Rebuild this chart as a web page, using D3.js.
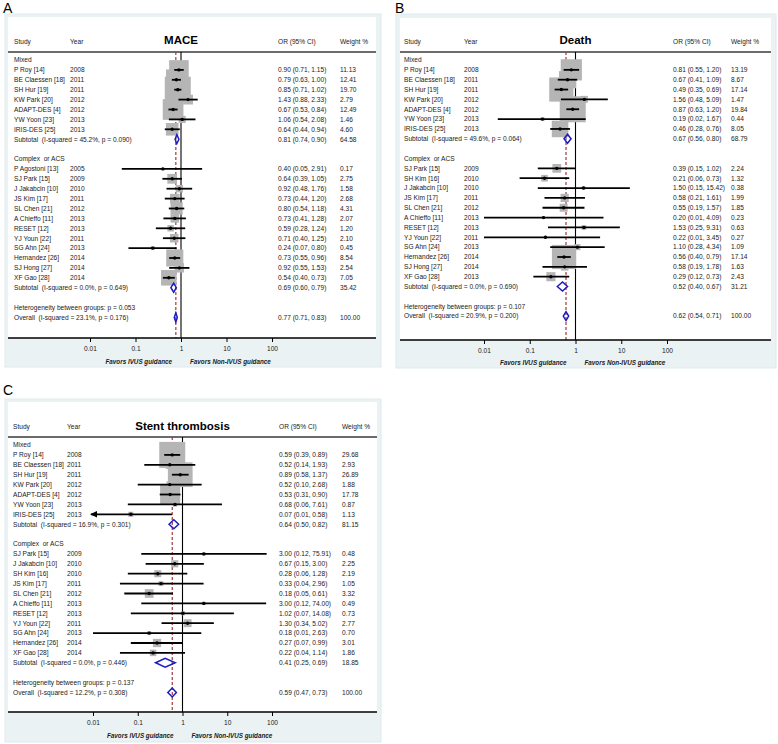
<!DOCTYPE html>
<html><head><meta charset="utf-8">
<script src="https://cdn.jsdelivr.net/npm/d3@7"></script>
<style>
body{margin:0;background:#fff}
svg{display:block;font-family:"Liberation Sans",Arial,Helvetica,sans-serif}
text{white-space:pre}
</style>
</head><body>
<svg id="chart" width="778" height="744"></svg>
<script>
// ---------- shared labels ----------
const groupNames = ["Mixed", "Complex  or ACS"];
const tickValues = [0.01, 0.1, 1, 10, 100];
const tickLabels = ["0.01", "0.1", "1", "10", "100"];
const favorLabels = ["Favors IVUS guidance", "Favors Non-IVUS guidance"];
const headerLabels = ["Study", "Year", "OR (95% CI)", "Weight %"];

// ---------- A: MACE ----------
const maceStudies = ["P Roy [14]","BE Claessen [18]","SH Hur [19]","KW Park [20]","ADAPT-DES [4]","YW Yoon [23]","IRIS-DES [25]","P Agostoni [13]","SJ Park [15]","J Jakabcin [10]","JS Kim [17]","SL Chen [21]","A Chieffo [11]","RESET [12]","YJ Youn [22]","SG Ahn [24]","Hernandez [26]","SJ Hong [27]","XF Gao [28]"];
const maceYears = [2008,2011,2011,2012,2012,2013,2013,2005,2009,2010,2011,2012,2013,2013,2011,2013,2014,2014,2014];
const maceGroup = [0,0,0,0,0,0,0,1,1,1,1,1,1,1,1,1,1,1,1];
const maceOR = [0.90,0.79,0.85,1.43,0.67,1.06,0.64,0.40,0.64,0.92,0.73,0.80,0.73,0.59,0.71,0.24,0.73,0.92,0.54];
const maceLo = [0.71,0.63,0.71,0.88,0.53,0.54,0.44,0.05,0.39,0.48,0.44,0.54,0.41,0.28,0.40,0.07,0.55,0.55,0.40];
const maceHi = [1.15,1.00,1.02,2.33,0.84,2.08,0.94,2.91,1.05,1.76,1.20,1.18,1.28,1.24,1.25,0.80,0.96,1.53,0.73];
const maceWt = [11.13,12.41,19.70,2.79,12.49,1.46,4.60,0.17,2.75,1.58,2.68,4.31,2.07,1.20,2.10,0.45,8.54,2.54,7.05];
const maceSubOR = [0.81,0.69], maceSubLo = [0.74,0.60], maceSubHi = [0.90,0.79];
const maceSubWt = [64.58,35.42], maceSubI2 = ["45.2","0.0"], maceSubP = ["0.090","0.649"];
const maceOverall = [0.77,0.71,0.83], maceOverallI2 = "23.1", maceOverallP = "0.176", maceHetP = "0.053";

// ---------- B: Death ----------
const deathStudies = ["P Roy [14]","BE Claessen [18]","SH Hur [19]","KW Park [20]","ADAPT-DES [4]","YW Yoon [23]","IRIS-DES [25]","SJ Park [15]","SH Kim [16]","J Jakabcin [10]","JS Kim [17]","SL Chen [21]","A Chieffo [11]","RESET [12]","YJ Youn [22]","SG Ahn [24]","Hernandez [26]","SJ Hong [27]","XF Gao [28]"];
const deathYears = [2008,2011,2011,2012,2012,2013,2013,2009,2010,2010,2011,2012,2013,2013,2011,2013,2014,2014,2013];
const deathGroup = [0,0,0,0,0,0,0,1,1,1,1,1,1,1,1,1,1,1,1];
const deathOR = [0.81,0.67,0.49,1.56,0.87,0.19,0.46,0.39,0.21,1.50,0.58,0.55,0.20,1.53,0.22,1.10,0.56,0.58,0.29];
const deathLo = [0.55,0.41,0.35,0.48,0.63,0.02,0.28,0.15,0.06,0.15,0.21,0.19,0.01,0.25,0.01,0.28,0.40,0.19,0.12];
const deathHi = [1.20,1.09,0.69,5.09,1.20,1.67,0.76,1.02,0.73,15.42,1.61,1.57,4.09,9.31,3.45,4.34,0.79,1.78,0.73];
const deathWt = [13.19,8.67,17.14,1.47,19.84,0.44,8.05,2.24,1.32,0.38,1.99,1.85,0.23,0.63,0.27,1.09,17.14,1.63,2.43];
const deathSubOR = [0.67,0.52], deathSubLo = [0.56,0.40], deathSubHi = [0.80,0.67];
const deathSubWt = [68.79,31.21], deathSubI2 = ["49.6","0.0"], deathSubP = ["0.064","0.690"];
const deathOverall = [0.62,0.54,0.71], deathOverallI2 = "20.9", deathOverallP = "0.200", deathHetP = "0.107";

// ---------- C: Stent thrombosis ----------
const stStudies = ["P Roy [14]","BE Claessen [18]","SH Hur [19]","KW Park [20]","ADAPT-DES [4]","YW Yoon [23]","IRIS-DES [25]","SJ Park [15]","J Jakabcin [10]","SH Kim [16]","JS Kim [17]","SL Chen [21]","A Chieffo [11]","RESET [12]","YJ Youn [22]","SG Ahn [24]","Hernandez [26]","XF Gao [28]"];
const stYears = [2008,2011,2011,2012,2012,2013,2013,2009,2010,2010,2011,2012,2013,2013,2011,2013,2014,2014];
const stGroup = [0,0,0,0,0,0,0,1,1,1,1,1,1,1,1,1,1,1];
const stOR = [0.59,0.52,0.89,0.52,0.53,0.68,0.07,3.00,0.67,0.28,0.33,0.18,3.00,1.02,1.30,0.18,0.27,0.22];
const stLo = [0.39,0.14,0.58,0.10,0.31,0.06,0.006,0.12,0.15,0.06,0.04,0.05,0.12,0.07,0.34,0.01,0.07,0.04];
const stHi = [0.89,1.93,1.37,2.68,0.90,7.61,0.58,75.91,3.00,1.28,2.96,0.61,74.00,14.08,5.02,2.63,0.99,1.14];
const stWt = [29.68,2.93,26.89,1.88,17.78,0.87,1.13,0.48,2.25,2.19,1.05,3.32,0.49,0.73,2.77,0.70,3.01,1.86];
const stSubOR = [0.64,0.41], stSubLo = [0.50,0.25], stSubHi = [0.82,0.69];
const stSubWt = [81.15,18.85], stSubI2 = ["16.9","0.0"], stSubP = ["0.301","0.446"];
const stOverall = [0.59,0.47,0.73], stOverallI2 = "12.2", stOverallP = "0.308", stHetP = "0.137";

// ---------- build datasets ----------
const panels = [
  { letter:"A", title:"MACE", study:maceStudies, year:maceYears, group:maceGroup, or:maceOR, lo:maceLo, hi:maceHi, wt:maceWt,
    subOR:maceSubOR, subLo:maceSubLo, subHi:maceSubHi, subWt:maceSubWt, subI2:maceSubI2, subP:maceSubP,
    overall:maceOverall, overallI2:maceOverallI2, overallP:maceOverallP, hetP:maceHetP,
    L:{ox:5,oy:14,ow:376,oh:353, wx:8,wy:17,wr:376, lx:3,ly:13, textX:14, yearX:70, orX:278, wtX:340,
       x0:90,x1:272, row0:60, dy:9.9, headY:43.5, titleY:44, hlY:52, axisY:338, favY:364} },
  { letter:"B", title:"Death", study:deathStudies, year:deathYears, group:deathGroup, or:deathOR, lo:deathLo, hi:deathHi, wt:deathWt,
    subOR:deathSubOR, subLo:deathSubLo, subHi:deathSubHi, subWt:deathSubWt, subI2:deathSubI2, subP:deathSubP,
    overall:deathOverall, overallI2:deathOverallI2, overallP:deathOverallP, hetP:deathHetP,
    L:{ox:396,oy:14,ow:380,oh:354, wx:400,wy:18,wr:771, lx:395,ly:13, textX:404, yearX:464, orX:673, wtX:731,
       x0:484,x1:667, row0:60, dy:9.85, headY:43.5, titleY:44, hlY:52, axisY:340, favY:365} },
  { letter:"C", title:"Stent thrombosis", study:stStudies, year:stYears, group:stGroup, or:stOR, lo:stLo, hi:stHi, wt:stWt,
    subOR:stSubOR, subLo:stSubLo, subHi:stSubHi, subWt:stSubWt, subI2:stSubI2, subP:stSubP,
    overall:stOverall, overallI2:stOverallI2, overallP:stOverallP, hetP:stHetP,
    L:{ox:5,oy:399,ow:376,oh:343, wx:8,wy:402,wr:377, lx:3,ly:395, textX:13, yearX:67, orX:279, wtX:342,
       x0:93,x1:272, row0:445, dy:9.9, headY:428.5, titleY:430, hlY:437, axisY:712, favY:738} }
];

const svg = d3.select("#chart");
const FS = 6.6;
const TXT = "#1a1a1a";
const f2 = v => v.toFixed(2);
const ciText = (o,l,h) => `${f2(o)} (${f2(l)}, ${f2(h)})`;

panels.forEach(D => {
  const L = D.L;
  const g = svg.append("g");
  const x = d3.scaleLog().domain([0.01, 100]).range([L.x0, L.x1]);
  const xmin = 0.01, xmax = 100;

  // backgrounds
  g.append("rect").attr("x",L.ox).attr("y",L.oy).attr("width",L.ow).attr("height",L.oh)
    .attr("fill","#eaf2f3").attr("stroke","#dfeaee").attr("stroke-width",1);
  g.append("rect").attr("x",L.wx).attr("y",L.wy).attr("width",L.wr-L.wx).attr("height",L.axisY-L.wy)
    .attr("fill","#ffffff");
  // panel letter
  svg.append("text").attr("x",L.lx).attr("y",L.ly).attr("font-size",14).attr("fill","#000").text(D.letter);

  // rows
  const rows = [];
  groupNames.forEach((gn, gi) => {
    rows.push({type:"group", label:gn});
    D.study.forEach((s,i) => { if (D.group[i] === gi) rows.push({type:"study", i}); });
    rows.push({type:"sub", gi});
    rows.push({type:"blank"});
  });
  rows.push({type:"het"});
  rows.push({type:"overall"});
  const yRow = k => L.row0 + k * L.dy;

  // header
  const hdr = g.append("g").attr("font-size",FS).attr("fill",TXT);
  hdr.append("text").attr("x",L.textX).attr("y",L.headY).text(headerLabels[0]);
  hdr.append("text").attr("x",L.yearX).attr("y",L.headY).text(headerLabels[1]);
  hdr.append("text").attr("x",L.orX).attr("y",L.headY).text(headerLabels[2]);
  hdr.append("text").attr("x",L.wtX).attr("y",L.headY).text(headerLabels[3]);
  g.append("text").attr("x",x(1)).attr("y",L.titleY).attr("text-anchor","middle")
    .attr("font-size",11.5).attr("font-weight","bold").attr("fill","#000").text(D.title);
  g.append("line").attr("x1",L.wx).attr("x2",L.wr).attr("y1",L.hlY).attr("y2",L.hlY)
    .attr("stroke","#3a3a3a").attr("stroke-width",1.3);

  // reference lines
  g.append("line").attr("x1",x(D.overall[0])).attr("x2",x(D.overall[0])).attr("y1",L.hlY).attr("y2",L.axisY)
    .attr("stroke","#a3383a").attr("stroke-width",1.2).attr("stroke-dasharray","3,2");
  g.append("line").attr("x1",x(1)).attr("x2",x(1)).attr("y1",L.hlY).attr("y2",L.axisY)
    .attr("stroke","#000").attr("stroke-width",1.1);

  // boxes
  const wmax = d3.max(D.wt);
  const studyRows = rows.map((r,k)=>({...r,k})).filter(r=>r.type==="study");
  g.append("g").selectAll("rect").data(studyRows).join("rect")
    .attr("x", r => x(D.or[r.i]) - 13*Math.sqrt(D.wt[r.i]/wmax))
    .attr("y", r => yRow(r.k) - 13*Math.sqrt(D.wt[r.i]/wmax))
    .attr("width", r => 26*Math.sqrt(D.wt[r.i]/wmax))
    .attr("height", r => 26*Math.sqrt(D.wt[r.i]/wmax))
    .attr("fill","#b5b5b5");
  // CI lines
  g.append("g").selectAll("line").data(studyRows).join("line")
    .attr("x1", r => D.lo[r.i] < xmin ? x(xmin) - 2 : x(D.lo[r.i]))
    .attr("x2", r => D.hi[r.i] > xmax ? x(xmax) + 2 : x(D.hi[r.i]))
    .attr("y1", r => yRow(r.k)).attr("y2", r => yRow(r.k))
    .attr("stroke","#000").attr("stroke-width",1.8);
  // arrows for clipped CIs
  studyRows.filter(r => D.lo[r.i] < xmin).forEach(r => {
    const tx = x(xmin) - 3, y = yRow(r.k);
    g.append("path").attr("d",`M${tx},${y}L${tx+7},${y-3.2}L${tx+7},${y+3.2}Z`).attr("fill","#000");
  });
  // points
  g.append("g").selectAll("circle").data(studyRows).join("circle")
    .attr("cx", r => x(D.or[r.i])).attr("cy", r => yRow(r.k)).attr("r",1.7).attr("fill","#000");

  // diamonds
  const diamond = (o,l,h,y) => `M${x(l)},${y}L${x(o)},${y-4.5}L${x(h)},${y}L${x(o)},${y+4.5}Z`;
  rows.forEach((r,k) => {
    const y = yRow(k);
    if (r.type === "sub")
      g.append("path").attr("d",diamond(D.subOR[r.gi],D.subLo[r.gi],D.subHi[r.gi],y))
        .attr("fill","none").attr("stroke","#1c1cc4").attr("stroke-width",1.5);
    if (r.type === "overall")
      g.append("path").attr("d",diamond(D.overall[0],D.overall[1],D.overall[2],y))
        .attr("fill","none").attr("stroke","#1c1cc4").attr("stroke-width",1.5);
  });

  // row texts
  const tg = g.append("g").attr("font-size",FS).attr("fill",TXT);
  rows.forEach((r,k) => {
    const y = yRow(k);
    const t = (xx, s) => tg.append("text").attr("x",xx).attr("y",y).attr("dy","0.35em").text(s);
    if (r.type === "group") t(L.textX, r.label);
    else if (r.type === "study") {
      t(L.textX, D.study[r.i]); t(L.yearX, String(D.year[r.i]));
      t(L.orX, ciText(D.or[r.i], D.lo[r.i], D.hi[r.i])); t(L.wtX, f2(D.wt[r.i]));
    } else if (r.type === "sub") {
      t(L.textX, `Subtotal  (I-squared = ${D.subI2[r.gi]}%, p = ${D.subP[r.gi]})`);
      t(L.orX, ciText(D.subOR[r.gi], D.subLo[r.gi], D.subHi[r.gi])); t(L.wtX, f2(D.subWt[r.gi]));
    } else if (r.type === "het") {
      t(L.textX, `Heterogeneity between groups: p = ${D.hetP}`);
    } else if (r.type === "overall") {
      t(L.textX, `Overall  (I-squared = ${D.overallI2}%, p = ${D.overallP})`);
      t(L.orX, ciText(D.overall[0], D.overall[1], D.overall[2])); t(L.wtX, "100.00");
    }
  });

  // axis
  g.append("line").attr("x1",L.wx).attr("x2",L.wr).attr("y1",L.axisY).attr("y2",L.axisY)
    .attr("stroke","#000").attr("stroke-width",1.3);
  const ax = g.append("g").attr("transform",`translate(0,${L.axisY})`)
    .call(d3.axisBottom(x).tickValues(tickValues).tickFormat((d,i)=>tickLabels[i]).tickSize(4).tickPadding(4));
  ax.select(".domain").remove();
  ax.selectAll("text").attr("font-size",FS).attr("fill",TXT).attr("font-family",null);
  ax.selectAll("line").attr("stroke","#000");
  g.append("text").attr("x",x(1)-9).attr("y",L.favY).attr("text-anchor","end")
    .attr("font-size",6.3).attr("font-weight","bold").attr("font-style","italic").attr("fill",TXT).text(favorLabels[0]);
  g.append("text").attr("x",x(1)+9).attr("y",L.favY).attr("text-anchor","start")
    .attr("font-size",6.3).attr("font-weight","bold").attr("font-style","italic").attr("fill",TXT).text(favorLabels[1]);
});
</script>
</body></html>
